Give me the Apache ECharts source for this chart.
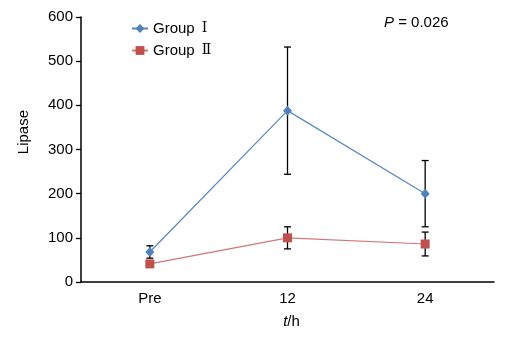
<!DOCTYPE html>
<html>
<head>
<meta charset="utf-8">
<script src="https://cdn.jsdelivr.net/npm/echarts@6/dist/echarts.min.js"></script>
<style>html,body{margin:0;padding:0;background:#fff}#c{width:519px;height:337px}</style>
</head>
<body>
<div id="c"></div>
<script>
var categories = ['Pre', '12', '24'];
var group1Mean = [68, 388, 200];
var group1Err = [14, 144, 75];
var group2Mean = [41, 100, 86];
var group2Err = [5, 25, 27];
var yTicks = [0, 100, 200, 300, 400, 500, 600];
var seriesNames = ['Group Ⅰ', 'Group Ⅱ'];

var FONT = 'Liberation Sans';
var FS = 15;
function errData(mean, err) {
  return mean.map(function (m, i) { return [i, m - err[i], m + err[i]]; });
}
function errRender(params, api) {
  var x = api.value(0);
  var lo = api.coord([x, api.value(1)]);
  var hi = api.coord([x, api.value(2)]);
  var w = 3.5;
  var st = { stroke: '#000', lineWidth: 1.3 };
  return {
    type: 'group',
    children: [
      { type: 'line', shape: { x1: lo[0], y1: lo[1], x2: hi[0], y2: hi[1] }, style: st },
      { type: 'line', shape: { x1: lo[0] - w, y1: lo[1], x2: lo[0] + w, y2: lo[1] }, style: st },
      { type: 'line', shape: { x1: hi[0] - w, y1: hi[1], x2: hi[0] + w, y2: hi[1] }, style: st }
    ]
  };
}
var chart = echarts.init(document.getElementById('c'));
chart.setOption({
  animation: false,
  backgroundColor: '#fff',
  textStyle: { fontFamily: FONT },
  grid: { left: 81, right: 25, top: 17, bottom: 55 },
  legend: {
    orient: 'vertical',
    left: 126, top: 16,
    itemWidth: 16, itemHeight: 11, itemGap: 7,
    textStyle: {
      fontFamily: FONT, fontSize: FS, color: '#000',
      rich: { r: { fontFamily: 'DejaVu Serif', fontSize: 14, color: '#000', padding: [0, 0, 0, 3] } }
    },
    formatter: function (name) {
      var parts = name.split(' ');
      return parts[0] + ' {r|' + parts[1] + '}';
    },
    data: seriesNames
  },
  xAxis: {
    type: 'category',
    data: categories,
    boundaryGap: true,
    axisLine: { lineStyle: { color: '#000', width: 1.5 } },
    axisTick: { inside: true, length: 6, lineStyle: { color: '#000', width: 1.3 } },
    axisLabel: { color: '#000', fontSize: FS, fontFamily: FONT, margin: 9 },
    name: '{i|t}/h',
    nameLocation: 'middle',
    nameGap: 32,
    nameTextStyle: {
      fontSize: FS, color: '#000', fontFamily: FONT, padding: [0, 0, 0, 8],
      rich: { i: { fontStyle: 'italic', fontSize: FS, fontFamily: FONT, color: '#000' } }
    }
  },
  yAxis: {
    type: 'value',
    min: yTicks[0], max: yTicks[yTicks.length - 1], interval: 100,
    splitLine: { show: false },
    axisLine: { show: true, lineStyle: { color: '#000', width: 1.5 } },
    axisTick: { show: true, length: 5, lineStyle: { color: '#000', width: 1.3 } },
    axisLabel: { color: '#000', fontSize: FS, fontFamily: FONT, margin: 8 }
  },
  graphic: [
    {
      type: 'text', left: 16, top: 110, rotation: Math.PI / 2,
      style: { text: 'Lipase', fontSize: FS, fontFamily: FONT, fill: '#000' }
    },
    {
      type: 'text', left: 384, top: 15,
      style: {
        text: '{i|P} = 0.026', fontSize: FS, fontFamily: FONT, fill: '#000',
        rich: { i: { fontStyle: 'italic', fontSize: FS, fontFamily: FONT, fill: '#000' } }
      }
    }
  ],
  series: [
    {
      type: 'custom', name: 'err1', renderItem: errRender, data: errData(group1Mean, group1Err),
      encode: { x: 0, y: [1, 2] }, z: 1, silent: true
    },
    {
      type: 'custom', name: 'err2', renderItem: errRender, data: errData(group2Mean, group2Err),
      encode: { x: 0, y: [1, 2] }, z: 1, silent: true
    },
    {
      name: seriesNames[0], type: 'line', data: group1Mean, z: 3,
      symbol: 'diamond', symbolSize: [9, 10],
      itemStyle: { color: '#4F81BD' },
      lineStyle: { color: '#5A88C0', width: 1.2 }
    },
    {
      name: seriesNames[1], type: 'line', data: group2Mean, z: 3,
      symbol: 'rect', symbolSize: 9,
      itemStyle: { color: '#C0504D' },
      lineStyle: { color: '#D07775', width: 1.2 }
    }
  ]
});
</script>
</body>
</html>
